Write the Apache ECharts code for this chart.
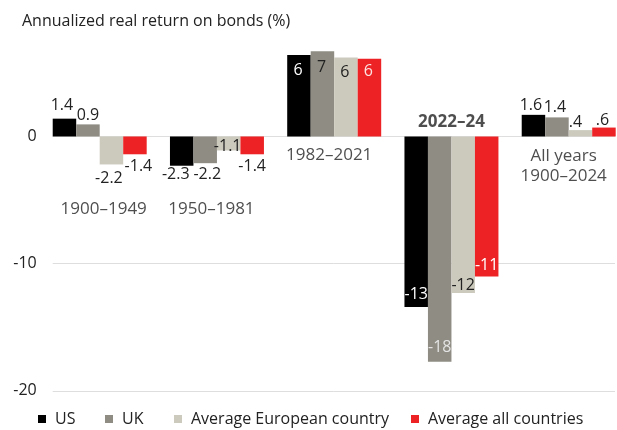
<!DOCTYPE html>
<html><head><meta charset="utf-8">
<script src="https://cdn.jsdelivr.net/npm/echarts@6/dist/echarts.min.js"></script>
<style>html,body{margin:0;padding:0;background:#fff}#c{width:617px;height:430px}</style>
</head><body><div id="c"></div>
<script>
// ---- data ----
const categories = ['1900–1949', '1950–1981', '1982–2021', '2022–24', 'All years\n1900–2024'];
const seriesNames = ['US', 'UK', 'Average European country', 'Average all countries'];
const us  = [1.4, -2.3, 6.4, -13.4, 1.7];
const uk  = [0.95, -2.1, 6.7, -17.7, 1.5];
const eur = [-2.2, -1.1, 6.2, -12.3, 0.5];
const all = [-1.4, -1.4, 6.1, -11.0, 0.7];
const usLabels  = ['1.4', '-2.3', '6', '-13', '1.6'];
const ukLabels  = ['0.9', '-2.2', '7', '-18', '1.4'];
const eurLabels = ['-2.2', '-1.1', '6', '-12', '.4'];
const allLabels = ['-1.4', '-1.4', '6', '-11', '.6'];
const yMin = -20, yMax = 8, yInterval = 10;
const titleText = 'Annualized real return on bonds (%)';

// ---- styles / layout ----
const FONT = "'Open Sans', 'DejaVu Sans', sans-serif";
const TXT = '#222222';
const W = '#ffffff';
const colors = ['#000000', '#8e8c83', '#cccabd', '#ed2224'];
const valueSets = [us, uk, eur, all];
const labelSets = [usLabels, ukLabels, eurLabels, allLabels];
// [position, distance, dx, dy, color] per series per group
const labelLayout = [
  [['top',5,-2.5,0,TXT], ['bottom',1,-6,0,TXT], ['insideTop',7.5,-1,0,W], ['insideBottom',5,0,0,W], ['top',1,-2.5,0,TXT]],
  [['top',1,0,0,TXT], ['bottom',3,2,0,TXT], ['insideTop',8,-1,0,TXT], ['insideBottom',6,0,0,'#e4e4e4'], ['top',2,-2,0,TXT]],
  [['bottom',6,-2.5,0,TXT], ['inside',0,-1,2.5,TXT], ['insideTop',7,-1,0,TXT], ['insideBottom',0,0,0,TXT], ['top',0,-5,0,TXT]],
  [['bottom',4.5,3.5,0,TXT], ['bottom',4.5,0,0,TXT], ['insideTop',5,-1,0,'#fde2e2'], ['insideBottom',3,0,0,W], ['top',0,-1.5,1,TXT]]
];
// category text: [dx px, y value on axis]
const catLayout = [[4, -5.74], [-5.5, -5.74], [-5, -1.49], [0, 1.14], [-5, -2.36]];
const legendLeft = [38, 105, 174, 411];

const gridTop = 34.7, gridHeight = 356.2;

const barSeries = seriesNames.map((name, s) => ({
  name, type: 'bar', xAxisIndex: 1, yAxisIndex: 1, clip: false,
  barGap: '0%', barWidth: '20.04%',
  itemStyle: { color: colors[s] },
  emphasis: { disabled: true },
  data: valueSets[s].map((v, g) => {
    const [pos, dist, dx, dy, col] = labelLayout[s][g];
    return { value: v, label: { show: true, position: pos, distance: dist, offset: [dx, dy], color: col,
      formatter: labelSets[s][g], fontSize: 16, fontFamily: FONT } };
  })
}));

const catSeries = {
  type: 'scatter', xAxisIndex: 1, yAxisIndex: 1, symbolSize: 0, silent: true, clip: false,
  label: { show: true, position: 'inside', fontSize: 17, color: TXT, lineHeight: 20, fontFamily: FONT },
  data: categories.map((c, i) => ({
    value: [i, catLayout[i][1]],
    label: { formatter: c, offset: [catLayout[i][0], 0], fontWeight: i === 3 ? 'bold' : 'normal' }
  }))
};

const chart = echarts.init(document.getElementById('c'), null, { renderer: 'canvas' });
chart.setOption({
  animation: false,
  backgroundColor: '#ffffff',
  title: { text: titleText, left: 17, top: 8, textStyle: { fontSize: 16, fontWeight: 'normal', color: TXT, fontFamily: FONT } },
  legend: seriesNames.map((n, i) => ({
    data: [n], left: legendLeft[i], top: 411, padding: 0, itemWidth: 8, itemHeight: 8, icon: 'rect',
    selectedMode: false, textStyle: { fontSize: 16, color: TXT, fontFamily: FONT, padding: [0, 0, 0, 4] }
  })),
  grid: [
    { left: 52.7, width: 562.3, top: gridTop, height: gridHeight },
    { left: 99.7, width: 469, top: gridTop, height: gridHeight }
  ],
  xAxis: [
    { gridIndex: 0, type: 'value', min: 0, max: 1, show: false },
    { gridIndex: 1, type: 'category', data: categories, boundaryGap: false, show: false }
  ],
  yAxis: [
    { gridIndex: 0, type: 'value', min: yMin, max: yMax, interval: yInterval,
      axisLine: { show: false }, axisTick: { show: false },
      axisLabel: { showMaxLabel: false, fontSize: 16, color: TXT, fontFamily: FONT, margin: 16 },
      splitLine: { show: true, showMaxLine: false, lineStyle: { color: '#dedede', width: 1 } } },
    { gridIndex: 1, type: 'value', min: yMin, max: yMax, interval: yInterval, show: false, splitLine: { show: false } }
  ],
  series: [...barSeries, catSeries]
});
</script>
</body></html>
